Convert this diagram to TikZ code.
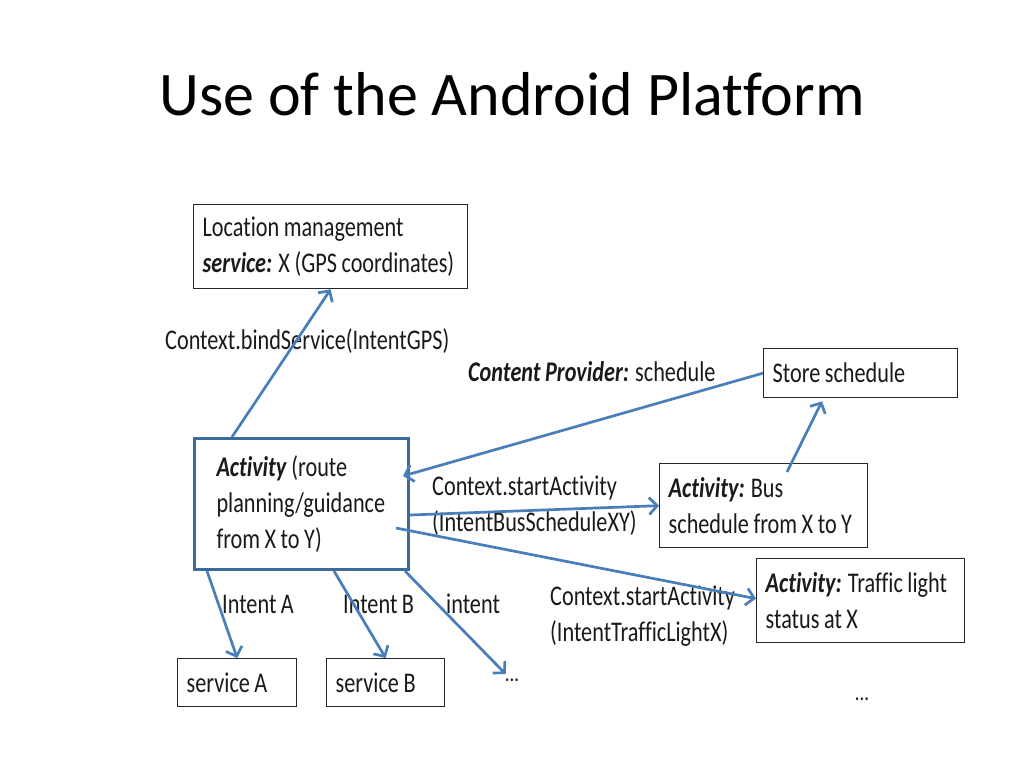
\documentclass[tikz,border=0pt]{standalone}
\usepackage{fontspec}
\setmainfont{Carlito}[FakeStretch=0.78, WordSpace=0.9, Ligatures=NoCommon]
\newfontfamily\titlefont{Carlito}[Ligatures=NoCommon]
\usetikzlibrary{arrows.meta,calc}
\definecolor{arrowblue}{HTML}{4A7EBB}
\definecolor{boxblue}{HTML}{3B6A9B}
\definecolor{txt}{HTML}{1A1A1A}
\begin{document}
\begin{tikzpicture}[x=1pt,y=-1pt,
  every node/.style={text=txt, font=\fontsize{28.5}{36}\selectfont,
    execute at begin node={\spaceskip=0pt\xspaceskip=0pt}},
  box/.style={draw=black!85, line width=1.3pt, rectangle, anchor=north west, align=left, inner xsep=9pt, inner ysep=0pt},
  mainbox/.style={box, draw=boxblue, line width=3pt, inner xsep=22pt},
  conn/.style={draw=arrowblue, line width=2.7pt, -{Straight Barb[length=8pt,width=17pt,line width=2.7pt]}},
  lbl/.style={anchor=west, align=left, inner sep=0pt},
  dots/.style={anchor=base, inner sep=0pt, font=\fontsize{24}{24}\selectfont}]
\useasboundingbox[fill=white] (0,0) rectangle (1024,768);

\node[anchor=base, inner sep=0pt, font=\titlefont\fontsize{62}{70}\selectfont, text=black] (title) at (512,115) {Use of the Android Platform};

\node[box, text width=256pt, minimum height=84pt] (loc) at (193,204) {\mbox{Location management}\\\mbox{\textbf{\textit{service:}} X (GPS coordinates)}};
\node[mainbox, text width=170pt, minimum height=131pt] (act) at (193,437) {\mbox{\textbf{\textit{Activity}} (route}\\\mbox{planning/guidance}\\\mbox{from X to Y)}};
\node[box, text width=176pt, minimum height=49pt] (store) at (763,348) {\mbox{Store schedule}};
\node[box, text width=190pt, minimum height=84pt] (bus) at (659,463) {\mbox{\textbf{\textit{Activity:}} Bus}\\\mbox{schedule from X to Y}};
\node[box, text width=190pt, minimum height=84pt] (tr) at (756,558) {\mbox{\textbf{\textit{Activity:}} Traffic light}\\\mbox{status at X}};
\node[box, text width=101pt, minimum height=48pt] (svca) at (177,658) {\mbox{service A}};
\node[box, text width=100pt, minimum height=48pt] (svcb) at (326,658) {\mbox{service B}};
\node[dots] (dots1) at (512,681) {...};
\node[dots] (dots2) at (862,700) {...};

\node[lbl] (lbind) at (165,341) {Context.bindService(IntentGPS)};
\node[lbl] (lcp) at (468,372) {\textbf{\textit{Content Provider:}} schedule};
\node[lbl] (lbus) at (432,506) {Context.startActivity\\(IntentBusScheduleXY)};
\node[lbl] (lia) at (222,604) {Intent A};
\node[lbl] (lib) at (343,604) {Intent B};
\node[lbl] (lint) at (446,604) {intent};
\node[lbl] (ltr) at (550,616) {Context.startActivity\\(IntentTrafficLightX)};

\coordinate (bindS) at ($(act.north west)+(39,0)$);
\coordinate (actIn) at ($(act.east)+(-7,-28)$);
\coordinate (busS) at ($(act.east)+(0,11)$);
\coordinate (trS) at ($(act.east)+(-14,24)$);
\coordinate (trE) at ($(tr.west)+(0,-2)$);
\coordinate (bsS) at ($(bus.north west)+(128,9)$);
\coordinate (bsE) at ($(store.south west)+(59,3)$);
\coordinate (aS) at ($(act.south west)+(14,0)$);
\coordinate (bS) at ($(act.south west)+(141,0)$);
\coordinate (iS) at ($(act.south east)+(-5,0)$);
\coordinate (iE) at ($(dots1.north west)+(1,-4)$);

\draw[conn] (bindS) -- (loc.south);
\draw[conn] (store.west) -- (actIn);
\draw[conn] (busS) -- (bus.west);
\draw[conn] (trS) -- (trE);
\draw[conn] (bsS) -- (bsE);
\draw[conn] (aS) -- (svca.north);
\draw[conn] (bS) -- (svcb.north);
\draw[conn] (iS) -- (iE);
\end{tikzpicture}
\end{document}
